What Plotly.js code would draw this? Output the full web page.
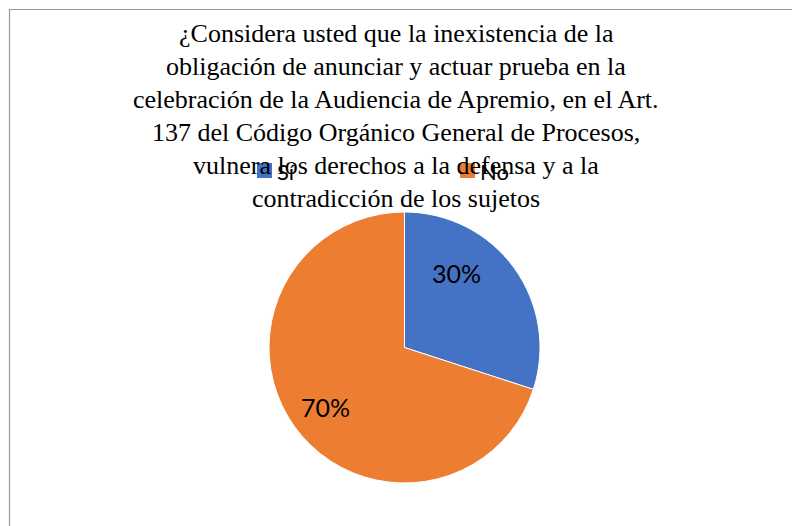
<!DOCTYPE html>
<html>
<head>
<meta charset="utf-8">
<script src="https://cdn.plot.ly/plotly-3.0.1.min.js"></script>
<style>html,body{margin:0;padding:0;background:#fff;}#chart{width:792px;height:526px;}</style>
</head>
<body>
<div id="chart"></div>
<script>
var categories = ["Sí", "No"];
var values = [30, 70];
var colors = ["#4472C4", "#ED7D31"];
var titleLines = [
  "¿Considera usted que la inexistencia de la",
  "obligación de anunciar y actuar prueba en la",
  "celebración de la Audiencia de Apremio, en el Art.",
  "137 del Código Orgánico General de Procesos,",
  "vulnera los derechos a la defensa y a la",
  "contradicción de los sujetos"
];

var W = 792, H = 526;
function px(x){return x / W;}
function py(y){return 1 - y / H;}

var serif = "'Liberation Serif', 'Times New Roman', serif";
var sans = "Lato, 'Open Sans', sans-serif";

var annotations = titleLines.map(function(t, i){
  var baseline = 43 + 33 * i;
  return {
    text: t, xref: "paper", yref: "paper", x: px(396), y: py(baseline + 7),
    xanchor: "center", yanchor: "bottom", showarrow: false,
    font: {family: serif, size: 26, color: "#000"}
  };
});

// pie geometry and data-label placement (Excel "best fit" style offsets)
var cx = 404.5, cy = 347.5, R = 135.5;
var labelAngleShift = [-19, -1];   // degrees, style tweak
var labelRadius = [0.67, 0.73];    // fraction of radius
var total = values.reduce(function(a, b){return a + b;}, 0);
var cum = 0;
values.forEach(function(v, i){
  var th = 2 * Math.PI * (cum + v / 2) / total + labelAngleShift[i] * Math.PI / 180;
  cum += v;
  var r = labelRadius[i] * R;
  annotations.push({
    text: Math.round(v / total * 100) + "%",
    xref: "paper", yref: "paper",
    x: px(cx + r * Math.sin(th)), y: py(cy - r * Math.cos(th)),
    xanchor: "center", yanchor: "middle", showarrow: false,
    font: {family: sans, size: 25, color: "#000"}
  });
});

// manual legend (Excel style)
var legendX = [257, 460];
var shapes = [{
  type: "rect", xref: "paper", yref: "paper",
  x0: px(9.5), x1: 1.05, y0: -0.05, y1: py(9.5),
  line: {color: "#9a9a9a", width: 1.2}, fillcolor: "rgba(0,0,0,0)", layer: "below"
}];
categories.forEach(function(c, i){
  shapes.push({
    type: "rect", xref: "paper", yref: "paper",
    x0: px(legendX[i]), x1: px(legendX[i] + 15), y0: py(178), y1: py(163),
    line: {width: 0}, fillcolor: colors[i], layer: "above"
  });
  annotations.push({
    text: c, xref: "paper", yref: "paper", x: px(legendX[i] + 18), y: py(171),
    xanchor: "left", yanchor: "middle", showarrow: false,
    font: {family: sans, size: 22, color: "#000"}
  });
});

var trace = {
  type: "pie",
  labels: categories,
  values: values,
  sort: false,
  direction: "clockwise",
  rotation: 0,
  marker: {colors: colors, line: {color: "#ffffff", width: 1}},
  textinfo: "none",
  hoverinfo: "label+percent",
  domain: {x: [px(cx - R), px(cx + R)], y: [py(cy + R), py(cy - R)]}
};

var layout = {
  width: W, height: H,
  margin: {l: 0, r: 0, t: 0, b: 0},
  paper_bgcolor: "#fff",
  showlegend: false,
  annotations: annotations,
  shapes: shapes
};

Plotly.newPlot("chart", [trace], layout, {displayModeBar: false, staticPlot: true});
</script>
</body>
</html>
